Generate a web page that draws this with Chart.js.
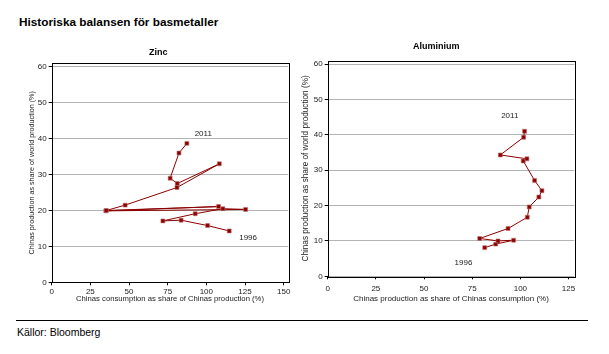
<!DOCTYPE html>
<html>
<head>
<meta charset="utf-8">
<script src="https://cdn.jsdelivr.net/npm/chart.js@4/dist/chart.umd.min.js"></script>
<style>
  html, body { margin:0; padding:0; background:#fff; }
  body { width:609px; height:354px; position:relative; overflow:hidden; font-family:"Liberation Sans", Arial, sans-serif; }
  #title { position:absolute; left:19px; top:15px; font-size:11.8px; font-weight:bold; color:#000; }
  #rule { position:absolute; left:16px; top:319.5px; width:572px; height:0; border-top:1.5px solid #000; }
  #src { position:absolute; left:17px; top:326px; font-size:10.5px; color:#000; }
  #c1 { position:absolute; left:28px; top:40px; }
  #c2 { position:absolute; left:298px; top:38px; }
</style>
</head>
<body>
<div id="title">Historiska balansen för basmetaller</div>
<canvas id="c1" width="272" height="270"></canvas>
<canvas id="c2" width="296" height="266"></canvas>
<div id="rule"></div>
<div id="src">Källor: Bloomberg</div>
<script>
// ---- data ----
// Zinc: x = China consumption as share of China production (%), y = China production as share of world production (%)
const zincX = [114.8, 100.8, 83.7, 71.9, 92.8, 110.7, 125.4, 35.0, 107.9, 35.3, 47.5, 81.0, 108.4, 81.2, 76.6, 82.3, 87.4];
const zincY = [14.3, 15.8, 17.3, 17.1, 19.1, 20.5, 20.3, 19.9, 21.1, 20.0, 21.5, 26.4, 33.0, 27.5, 29.0, 36.0, 38.7];
// Aluminium: x = China production as share of China consumption (%), y = China production as share of world production (%)
const aluX = [81.5, 87.2, 96.5, 88.4, 78.9, 93.6, 103.6, 104.6, 109.6, 111.2, 107.4, 101.5, 103.4, 89.6, 101.7, 102.2];
const aluY = [8.1, 9.1, 10.2, 10.0, 10.7, 13.5, 16.7, 19.6, 22.4, 24.2, 27.1, 32.6, 33.2, 34.3, 39.3, 41.0];
const yTicks = [0, 10, 20, 30, 40, 50, 60];
const zincXTicks = [0, 25, 50, 75, 100, 125, 150];
const aluXTicks = [0, 25, 50, 75, 100, 125];
const zincLabels = [{text:'2011', x:98, y:41.3}, {text:'1996', x:127, y:12.4}];
const aluLabels = [{text:'2011', x:94.5, y:45.3}, {text:'1996', x:70.5, y:3.7}];

const RED = '#8b0000';
const FONT = '"Liberation Sans", Arial, sans-serif';

const frame = {
  id:'frame',
  afterDraw(chart) {
    const a = chart.chartArea, ctx = chart.ctx;
    ctx.save();
    ctx.strokeStyle = '#000'; ctx.lineWidth = 1;
    ctx.strokeRect(Math.round(a.left)+0.5, Math.round(a.top)+0.5, Math.round(a.right-a.left), Math.round(a.bottom-a.top));
    ctx.restore();
    const labs = chart.options.plugins.yearLabels.items || [];
    ctx.save();
    ctx.font = '8px ' + FONT; ctx.fillStyle = '#222'; ctx.textAlign='center'; ctx.textBaseline='middle';
    labs.forEach(l => ctx.fillText(l.text, chart.scales.x.getPixelForValue(l.x), chart.scales.y.getPixelForValue(l.y)));
    ctx.restore();
  }
};

function makeChart(id, xs, ys, xTicks, xMax, title, xTitle, labels, cfg) {
  const pts = xs.map((v,i)=>({x:v, y:ys[i]}));
  return new Chart(document.getElementById(id), {
    type:'scatter',
    data:{ datasets:[{ data:pts, showLine:true, borderColor:RED, borderWidth:1, backgroundColor:RED,
      pointStyle:'rect', pointRadius:2.8, pointBorderWidth:0.6, pointBorderColor:'#c07070', pointBackgroundColor:RED, tension:0 }]},
    options:{
      responsive:false, animation:false, devicePixelRatio:1,
      layout:{ padding:{ left:0, right:cfg.padRight, top:0, bottom:cfg.padBottom } },
      plugins:{
        legend:{display:false}, tooltip:{enabled:false},
        title:{ display:true, text:title, color:'#000', font:{family:FONT, size:9, weight:'bold'}, padding:{top:cfg.titleTop, bottom:cfg.titleBottom} },
        yearLabels:{ items:labels }
      },
      scales:{
        x:{ type:'linear', min:0, max:xMax,
          afterBuildTicks(s){ s.ticks = xTicks.map(v=>({value:v})); },
          afterFit(s){ s.height = cfg.xH; },
          grid:{ drawOnChartArea:false, drawTicks:true, tickLength:3, tickColor:'#000' },
          border:{ display:false },
          ticks:{ color:'#222', font:{family:FONT, size:8}, padding:cfg.xTickPad, maxRotation:0, autoSkip:false },
          title:{ display:true, text:xTitle, color:'#222', font:{family:FONT, size:cfg.xTitleSize}, padding:{top:cfg.xTitleTop, bottom:0} }
        },
        y:{ type:'linear', min:0, max:61,
          afterBuildTicks(s){ s.ticks = yTicks.map(v=>({value:v})); },
          afterFit(s){ s.width = cfg.yW; },
          grid:{ color:'#b4b4b4', lineWidth:1, drawTicks:true, tickLength:3, tickColor:'#000' },
          border:{ display:false },
          ticks:{ color:'#222', font:{family:FONT, size:8}, padding:2, autoSkip:false },
          title:{ display:true, text:'Chinas production as share of world production (%)', color:'#222', font:{family:FONT, size:cfg.yTitleSize}, padding:{top:cfg.yTitleTop,bottom:cfg.yTitlePad} }
        }
      }
    },
    plugins:[frame]
  });
}

makeChart('c1', zincX, zincY, zincXTicks, 153, 'Zinc', 'Chinas consumption as share of Chinas production (%)', zincLabels,
  {padRight:11.7, padBottom:6, titleTop:7.6, titleBottom:4.9, xH:21.7, xTickPad:2, xTitleSize:7.7, xTitleTop:0, yW:23.7, yTitleSize:7.2, yTitleTop:0, yTitlePad:4});
makeChart('c2', aluX, aluY, aluXTicks, 128, 'Aluminium', 'Chinas production as share of Chinas consumption (%)', aluLabels,
  {padRight:19.7, padBottom:0, titleTop:3.6, titleBottom:8.1, xH:27.7, xTickPad:5, xTitleSize:8, xTitleTop:1, yW:29.7, yTitleSize:8.2, yTitleTop:3, yTitlePad:2});
</script>
</body>
</html>
